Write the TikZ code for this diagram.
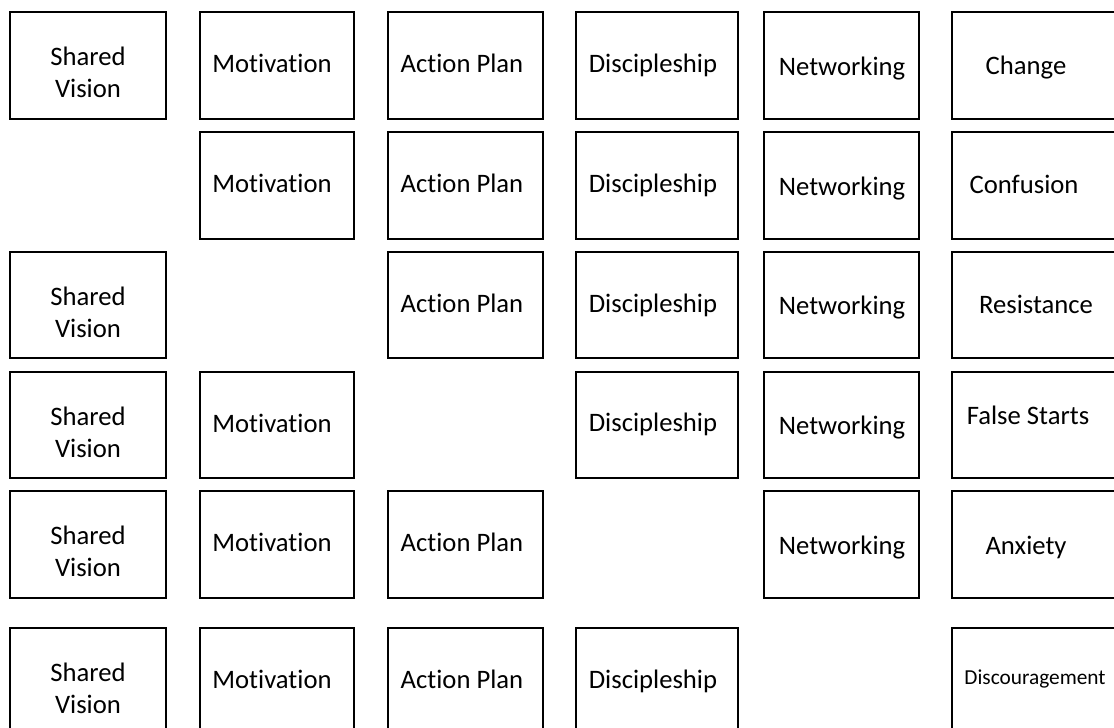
\documentclass[tikz,border=0pt]{standalone}
\usepackage{fontspec}
\setmainfont{Carlito}[Ligatures=NoCommon]
\usetikzlibrary{positioning}

\tikzset{
  cell/.style={draw=black, line width=1.5pt},
  word/.style={font=\fontsize{20}{24}\selectfont, inner sep=0pt, anchor=base},
  smallword/.style={word, font=\fontsize{16}{19}\selectfont},
}

\begin{document}
\begin{tikzpicture}[x=0.75pt,y=-0.75pt]
    \useasboundingbox (0,0) rectangle (1114,728);
    \clip (0,0) rectangle (1114,728);

    % heading, runs off the top edge
    \node[word, anchor=base west] (title) at (451,-4) {Managing Complex Change};

    % boxes, one left out on each row below the first
    \foreach \row/\ya/\yb in {1/12/119, 2/132/239, 3/252/358, 4/372/478, 5/491/598, 6/628/735} {
      \foreach \col/\xa/\xb in {1/10/166, 2/200/354, 3/388/543, 4/576/738, 5/764/919, 6/952/1118} {
        \pgfmathtruncatemacro{\gap}{\row-1}
        \ifnum\col=\gap\relax\else
          \draw[cell] (\xa,\ya) rectangle (\xb,\yb);
        \fi
      }
    }

    % row 1
    \node[word] (vision1) at (88,65) {Shared};
    \node[word] (vision1b) at ([yshift=-24pt]vision1.base) {Vision};
    \node[word] (motiv1) at (272,72) {Motivation};
    \node[word] (plan1) at (462,72) {Action Plan};
    \node[word] (disc1) at (653,72) {Discipleship};
    \node[word] (net1) at (842,75) {Networking};
    \node[word] (change) at (1026,74) {Change};

    % row 2
    \node[word] (motiv2) at (272,192) {Motivation};
    \node[word] (plan2) at (462,192) {Action Plan};
    \node[word] (disc2) at (653,192) {Discipleship};
    \node[word] (net2) at (842,195) {Networking};
    \node[word] (confusion) at (1024,193) {Confusion};

    % row 3
    \node[word] (vision3) at (88,305) {Shared};
    \node[word] (vision3b) at ([yshift=-24pt]vision3.base) {Vision};
    \node[word] (plan3) at (462,312) {Action Plan};
    \node[word] (disc3) at (653,312) {Discipleship};
    \node[word] (net3) at (842,314) {Networking};
    \node[word] (resist) at (1036,313) {Resistance};

    % row 4
    \node[word] (vision4) at (88,425) {Shared};
    \node[word] (vision4b) at ([yshift=-24pt]vision4.base) {Vision};
    \node[word] (motiv4) at (272,432) {Motivation};
    \node[word] (disc4) at (653,431) {Discipleship};
    \node[word] (net4) at (842,434) {Networking};
    \node[word] (falsestart) at (1028,424) {False Starts};

    % row 5
    \node[word] (vision5) at (88,544) {Shared};
    \node[word] (vision5b) at ([yshift=-24pt]vision5.base) {Vision};
    \node[word] (motiv5) at (272,551) {Motivation};
    \node[word] (plan5) at (462,551) {Action Plan};
    \node[word] (net5) at (842,554) {Networking};
    \node[word] (anxiety) at (1026,554) {Anxiety};

    % row 6
    \node[word] (vision6) at (88,681) {Shared};
    \node[word] (vision6b) at ([yshift=-24pt]vision6.base) {Vision};
    \node[word] (motiv6) at (272,688) {Motivation};
    \node[word] (plan6) at (462,688) {Action Plan};
    \node[word] (disc6) at (653,688) {Discipleship};
    \node[smallword] (discourage) at (1035,684) {Discouragement};

\end{tikzpicture}
\end{document}
